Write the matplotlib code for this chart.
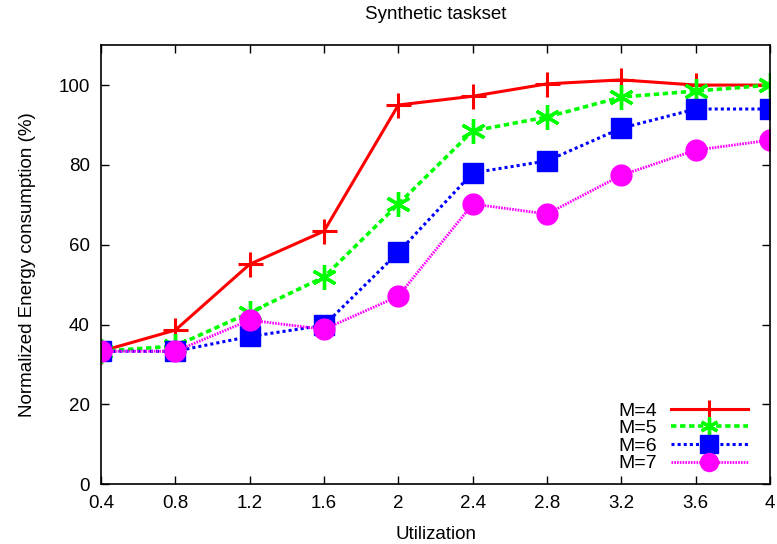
import numpy as np
import matplotlib
matplotlib.use('Agg')
import matplotlib.pyplot as plt

plt.rcParams['font.family'] = ['Liberation Sans', 'DejaVu Sans']

# Utilization levels and normalized energy for each processor count
utilization = [0.4, 0.8, 1.2, 1.6, 2.0, 2.4, 2.8, 3.2, 3.6, 4.0]
energy_m4 = [33.3, 38.6, 55.1, 63.4, 95.0, 97.2, 100.3, 101.3, 100.0, 100.0]
energy_m5 = [33.3, 34.6, 43.0, 51.9, 70.2, 88.5, 92.0, 97.0, 98.5, 100.0]
energy_m6 = [33.3, 33.3, 37.0, 39.8, 58.1, 78.0, 81.0, 89.2, 94.0, 94.0]
energy_m7 = [33.3, 33.3, 41.1, 38.8, 47.1, 70.2, 67.7, 77.4, 83.7, 86.2]
labels = ['M=4', 'M=5', 'M=6', 'M=7']
xticks = [0.4, 0.8, 1.2, 1.6, 2, 2.4, 2.8, 3.2, 3.6, 4]
xtick_labels = ['0.4', '0.8', '1.2', '1.6', '2', '2.4', '2.8', '3.2', '3.6', '4']

fig = plt.figure(figsize=(7.77, 5.44), dpi=100)
ax = fig.add_axes([0.130, 0.110, 0.861, 0.807])

ax.plot(utilization, energy_m4, color='#ff0000', linestyle='-', linewidth=2.2,
        marker='+', markersize=18, markeredgewidth=2.2, label=labels[0])
ax.plot(utilization, energy_m5, color='#00ff00', linestyle=(0, (1.5, 1)), linewidth=2.6,
        marker=(6, 2, 0), markersize=18, markeredgewidth=2.4, label=labels[1])
ax.plot(utilization, energy_m6, color='#0000ff', linestyle=(0, (1, 1)), linewidth=2.2,
        marker='s', markersize=15, label=labels[2])
ax.plot(utilization, energy_m7, color='#ff00ff', linestyle=(0, (0.6, 0.4)), linewidth=2.0,
        marker='o', markersize=15, label=labels[3])

ax.set_xlim(0.4, 4)
ax.set_ylim(0, 110)
ax.set_xticks(xticks)
ax.set_xticklabels(xtick_labels)
ax.set_yticks([0, 20, 40, 60, 80, 100])
ax.tick_params(direction='in', top=True, right=True, length=6, width=1, labelsize=13.5, pad=8)
for s in ax.spines.values():
    s.set_linewidth(1.2)

ax.set_xlabel('Utilization', fontsize=13.5, labelpad=10)
ax.set_ylabel('Normalized Energy consumption (%)', fontsize=13.5, labelpad=16)
ax.set_title('Synthetic taskset', fontsize=13.5, pad=19)

leg = ax.legend(loc='lower right', frameon=False, fontsize=14, markerfirst=False,
                handlelength=4.0, handletextpad=0.7, labelspacing=0.0,
                borderaxespad=0.2, bbox_to_anchor=(0.985, 0.0))
for h in leg.legend_handles:
    h.set_markersize(13)

fig.savefig('out.png', dpi=100)
